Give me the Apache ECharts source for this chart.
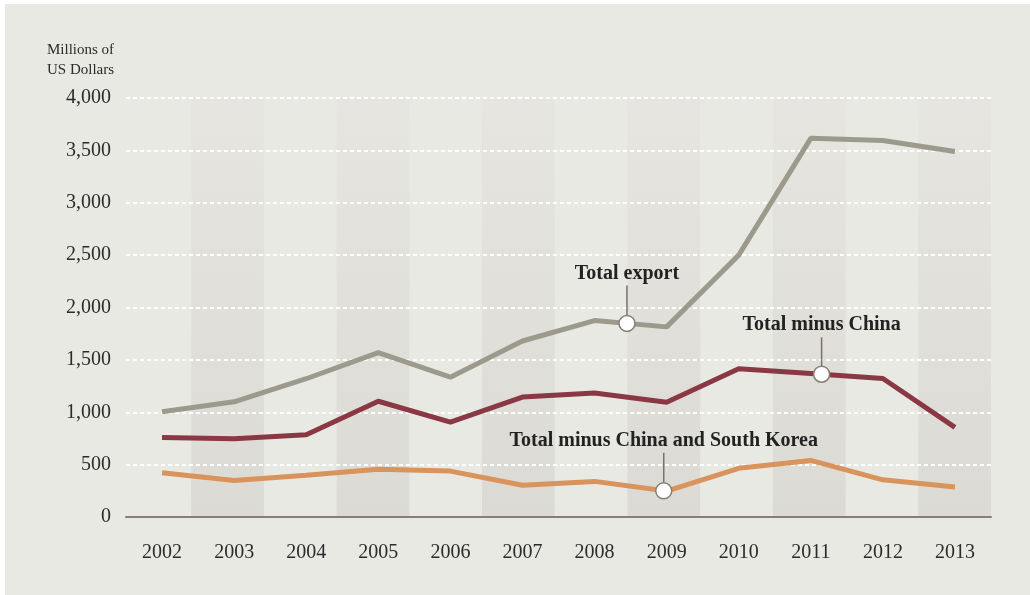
<!DOCTYPE html>
<html>
<head>
<meta charset="utf-8">
<script src="https://cdn.jsdelivr.net/npm/echarts@6/dist/echarts.min.js"></script>
<style>
  html, body { margin: 0; padding: 0; background: #ffffff; }
  #chart { position: absolute; left: 5px; top: 4px; width: 1025px; height: 591px; }
</style>
</head>
<body>
<div id="chart"></div>
<script>
// Export values, millions of US dollars
const years = ['2002','2003','2004','2005','2006','2007','2008','2009','2010','2011','2012','2013'];
const totalExport = [1005, 1100, 1320, 1570, 1335, 1680, 1875, 1815, 2500, 3615, 3595, 3490];
const minusChina = [760, 748, 785, 1105, 905, 1145, 1183, 1095, 1415, 1370, 1322, 855];
const minusChinaKorea = [422, 348, 398, 455, 438, 303, 340, 248, 465, 540, 355, 287];

// Callout anchors: [category position, value on the line, text]
const calloutPos = [6.45, 9.15, 6.96];
const calloutVal = [1848, 1363, 250];
const calloutText = ['Total export', 'Total minus China', 'Total minus China and South Korea'];
const calloutLift = [38, 37, 38];

const yTicks = [0, 500, 1000, 1500, 2000, 2500, 3000, 3500, 4000];

const serif = '"Liberation Serif", "DejaVu Serif", serif';
const chart = echarts.init(document.getElementById('chart'));

const bandFill = new echarts.graphic.LinearGradient(0, 0, 0, 1, [
  { offset: 0, color: '#e6e5e0' },
  { offset: 1, color: '#dbdad4' }
]);

chart.setOption({
  backgroundColor: '#e9e9e4',
  animation: false,
  title: {
    text: 'Millions of\nUS Dollars',
    left: 37, top: 31,
    textStyle: { fontFamily: serif, fontSize: 15, fontWeight: 'normal', color: '#2b2b2b', lineHeight: 20 }
  },
  grid: [
    { left: 121, right: 39, top: 94, bottom: 78 },
    // alternating year bands sit on their own slightly wider grid
    { left: 113.5, right: 39, top: 94, bottom: 78 }
  ],
  xAxis: [{
    type: 'category',
    gridIndex: 0,
    data: years,
    boundaryGap: true,
    z: 2,
    axisLine: { show: true, lineStyle: { color: '#8a7e72', width: 2 } },
    axisTick: { show: false },
    axisLabel: { fontFamily: serif, fontSize: 20, color: '#2b2b2b', margin: 26 },
    splitLine: { show: false },
    splitArea: { show: false }
  }, {
    type: 'value', gridIndex: 0, min: -0.5, max: 11.5, show: false
  }, {
    type: 'category',
    gridIndex: 1,
    data: years,
    boundaryGap: true,
    z: 0,
    axisLine: { show: false }, axisTick: { show: false }, axisLabel: { show: false },
    splitLine: { show: false },
    splitArea: { show: true, areaStyle: { color: ['rgba(0,0,0,0)', bandFill] } }
  }],
  yAxis: [{
    type: 'value', gridIndex: 0, min: 0, max: 4000, interval: 500,
    z: 1,
    axisLine: { show: false }, axisTick: { show: false },
    axisLabel: {
      fontFamily: serif, fontSize: 20, color: '#2b2b2b', margin: 15, padding: [4, 0, 0, 0],
      formatter: v => yTicks.includes(v) ? v.toLocaleString('en-US') : ''
    },
    splitLine: { show: true, lineStyle: { color: '#ffffff', width: 2, type: [4, 3] } }
  }, {
    type: 'value', gridIndex: 1, min: 0, max: 4000, show: false
  }],
  series: [
    { type: 'line', data: totalExport, symbol: 'none', lineStyle: { color: '#9b9a8c', width: 5 }, z: 3 },
    { type: 'line', data: minusChina, symbol: 'none', lineStyle: { color: '#8a3944', width: 5 }, z: 3 },
    { type: 'line', data: minusChinaKorea, symbol: 'none', lineStyle: { color: '#d9935c', width: 5 }, z: 3 },
    {
      type: 'custom',
      xAxisIndex: 1,
      yAxisIndex: 0,
      z: 10,
      data: calloutPos.map((p, i) => [p, calloutVal[i], i]),
      renderItem: function (params, api) {
        const pt = api.coord([api.value(0), api.value(1)]);
        const i = api.value(2);
        const lift = calloutLift[i];
        return {
          type: 'group',
          children: [
            { type: 'line', shape: { x1: pt[0], y1: pt[1] - 8, x2: pt[0], y2: pt[1] - lift },
              style: { stroke: '#7d7066', lineWidth: 1.5 } },
            { type: 'circle', shape: { cx: pt[0], cy: pt[1], r: 8 },
              style: { fill: '#ffffff', stroke: '#8a7e72', lineWidth: 1.5 } },
            { type: 'text', x: pt[0], y: pt[1] - lift - 2,
              style: { text: calloutText[i], fontFamily: serif, fontSize: 20, fontWeight: 'bold',
                       fill: '#222222', align: 'center', verticalAlign: 'bottom' } }
          ]
        };
      }
    }
  ]
});
</script>
</body>
</html>
